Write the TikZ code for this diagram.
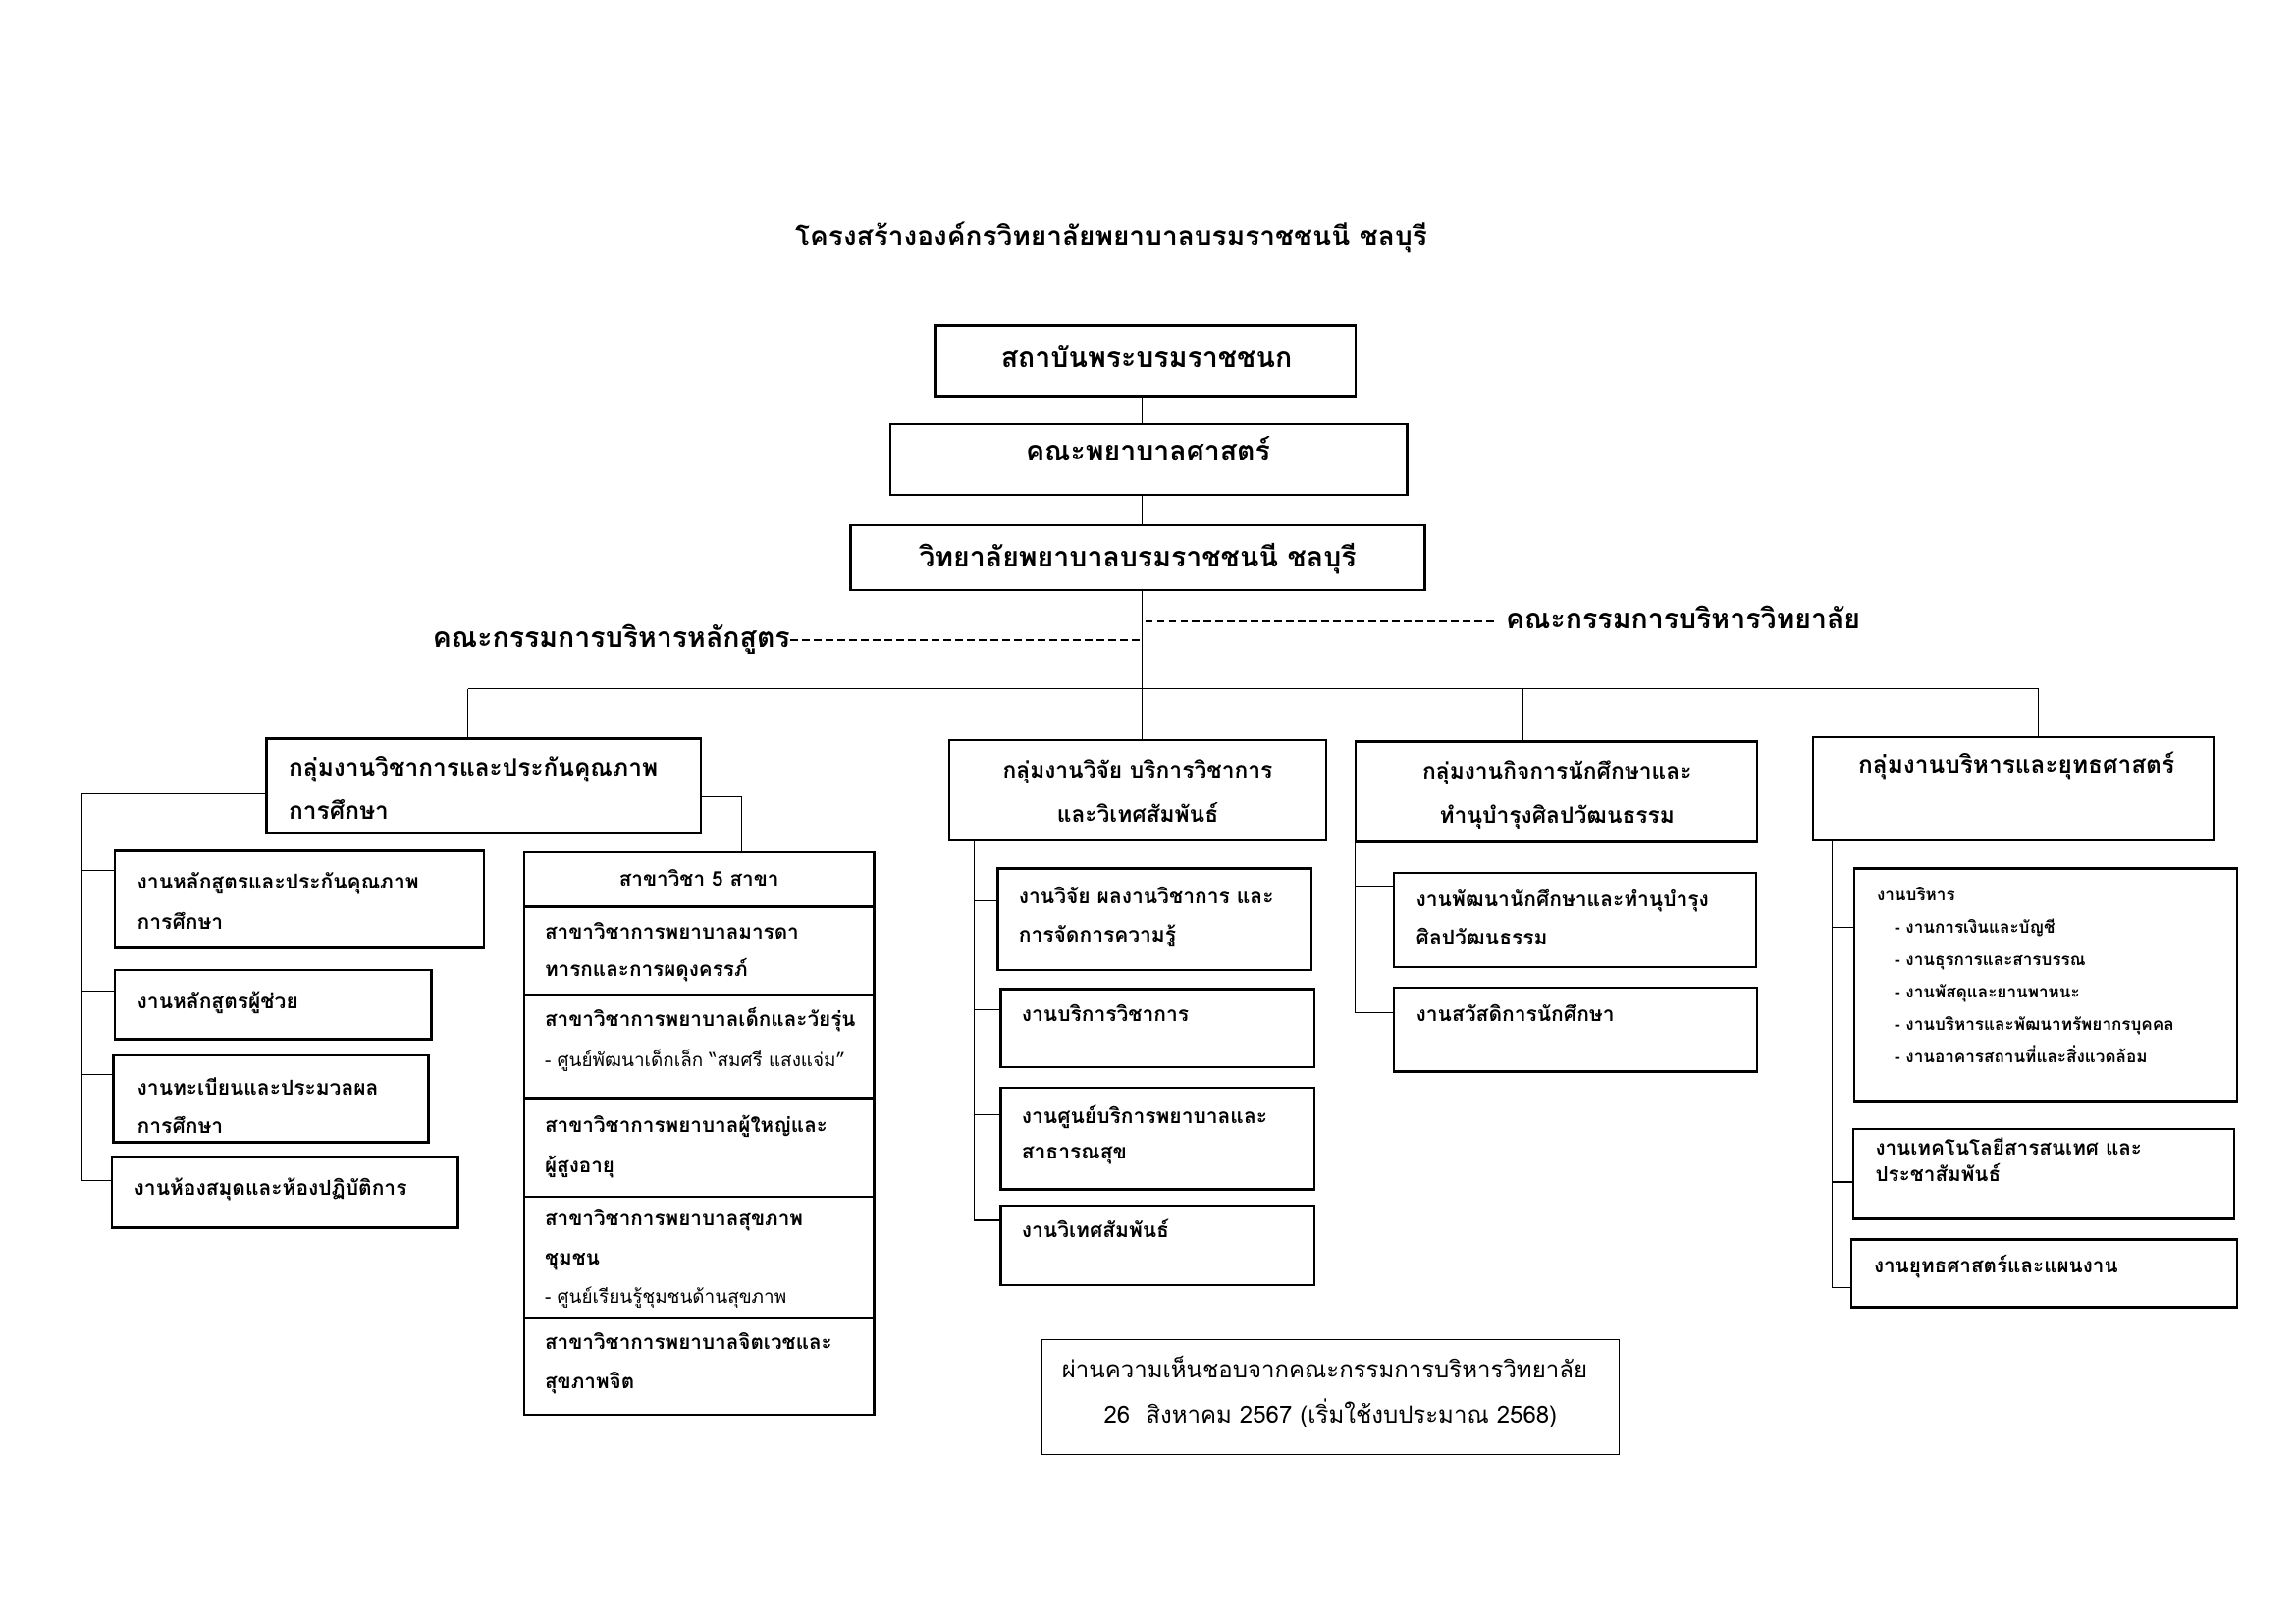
\documentclass[tikz,border=0pt]{standalone}
\usepackage{fontspec}
\setmainfont[Script=Thai]{Loma}
\usetikzlibrary{fit}
\tikzset{
  box/.style={draw, line width=1.6pt, inner sep=0pt},
  conn/.style={line width=0.7pt},
  dsh/.style={line width=1.2pt, dash pattern=on 5pt off 3pt},
  tl/.style={inner sep=0pt, anchor=base west},
  tc/.style={inner sep=0pt, anchor=base},
  ftitle/.style={font=\bfseries\fontsize{18.7}{22}\selectfont},
  ftop/.style={font=\bfseries\fontsize{19}{22}\selectfont},
  fgrp/.style={font=\bfseries\fontsize{16.3}{20}\selectfont},
  fgrpn/.style={font=\bfseries\fontsize{15.2}{20}\selectfont},
  fbox/.style={font=\bfseries\fontsize{14}{17}\selectfont},
  ftab/.style={font=\bfseries\fontsize{13.8}{16}\selectfont},
  fsub/.style={font=\fontsize{12.6}{16}\selectfont},
  fsmall/.style={font=\bfseries\fontsize{11.4}{14}\selectfont},
  fnote/.style={font=\fontsize{16}{19}\selectfont},
}
\begin{document}
\begin{tikzpicture}[x=1pt,y=-1pt]
\useasboundingbox (0,0) rectangle (1560,1097);
% title
\node[tc,ftitle] (title) at (755,167) {โครงสร้างองค์กรวิทยาลัยพยาบาลบรมราชชนนี ชลบุรี};
% top boxes
\node[box, fit={(636,221) (921,269)}] (A) {};
\node[tc,ftop] (At) at (779,250) {สถาบันพระบรมราชชนก};
\node[box, fit={(605,288) (956,336)}] (B) {};
\node[tc,ftop] (Bt) at (780,313) {คณะพยาบาลศาสตร์};
\node[box, fit={(578,357) (968,401)}] (C) {};
\node[tc,ftop] (Ct) at (773,385) {วิทยาลัยพยาบาลบรมราชชนนี ชลบุรี};
\coordinate (sp) at (776,468);
\draw[conn] (sp |- A.south) -- (sp |- B.north);
\draw[conn] (sp |- B.south) -- (sp |- C.north);
\draw[conn] (sp |- C.south) -- (sp);
% committees
\node[inner sep=0pt, anchor=base east, ftop] (cl) at (537,440) {คณะกรรมการบริหารหลักสูตร};
\node[tl, ftop] (cr) at (1023,427) {คณะกรรมการบริหารวิทยาลัย};
\coordinate (dl) at (776,435);
\coordinate (dr) at (778,422);
\draw[dsh] (cl.east |- dl) -- (dl);
\draw[dsh] (dr) -- ([xshift=-6pt]cr.west |- dr);
% groups
\node[box, fit={(181,502) (476,566)}] (g1) {};
\node[tl,fgrp] (g1a) at (196,527.5) {กลุ่มงานวิชาการและประกันคุณภาพ};
\node[tl,fgrp] (g1b) at (196,556.5) {การศึกษา};
\node[box, fit={(645,503) (901,571)}] (g2) {};
\node[tc,fgrpn] (g2a) at (773,528.5) {กลุ่มงานวิจัย บริการวิชาการ};
\node[tc,fgrpn] (g2b) at (773,558.5) {และวิเทศสัมพันธ์};
\node[box, fit={(921,504) (1194,572)}] (g3) {};
\node[tc,fgrpn] (g3a) at (1058,529.5) {กลุ่มงานกิจการนักศึกษาและ};
\node[tc,fgrpn] (g3b) at (1058,559.5) {ทำนุบำรุงศิลปวัฒนธรรม};
\node[box, fit={(1232,501) (1504,571)}] (g4) {};
\node[tc,fgrp] (g4a) at (1370,525.5) {กลุ่มงานบริหารและยุทธศาสตร์};
% bus
\coordinate (busL) at (318,468);
\coordinate (busR) at (1385,468);
\coordinate (d3) at (1035,468);
\draw[conn] (busL) -- (busR);
\draw[conn] (busL) -- (busL |- g1.north);
\draw[conn] (sp) -- (sp |- g2.north);
\draw[conn] (d3) -- (d3 |- g3.north);
\draw[conn] (busR) -- (busR |- g4.north);
% group 1 children
\node[box, fit={(78,578) (329,644)}] (b11) {};
\node[tl,fbox] (b11a) at (93,604) {งานหลักสูตรและประกันคุณภาพ};
\node[tl,fbox] (b11b) at (93,631) {การศึกษา};
\node[box, fit={(78,659) (293,706)}] (b12) {};
\node[tl,fbox] (b12a) at (93,685) {งานหลักสูตรผู้ช่วย};
\node[box, fit={(77,717) (291,776)}] (b13) {};
\node[tl,fbox] (b13a) at (93,744) {งานทะเบียนและประมวลผล};
\node[tl,fbox] (b13b) at (93,770) {การศึกษา};
\node[box, fit={(76,786) (311,834)}] (b14) {};
\node[tl,fbox] (b14a) at (91,812) {งานห้องสมุดและห้องปฏิบัติการ};
\coordinate (v1) at (56,539);
\coordinate (v1b) at (56,802);
\coordinate (v11) at (56,591);
\coordinate (v12) at (56,673);
\coordinate (v13) at (56,730);
\draw[conn] (g1.west |- v1) -- (v1) -- (v1b) -- (v1b -| b14.west);
\draw[conn] (v11) -- (v11 -| b11.west);
\draw[conn] (v12) -- (v12 -| b12.west);
\draw[conn] (v13) -- (v13 -| b13.west);
% table of 5 branches
\node[box, fit={(356,579) (594,616)}] (t0) {};
\node[box, fit={(356,616) (594,676)}] (t1) {};
\node[box, fit={(356,676) (594,746)}] (t2) {};
\node[box, fit={(356,746) (594,813)}] (t3) {};
\node[box, fit={(356,813) (594,895)}] (t4) {};
\node[box, fit={(356,895) (594,961)}] (t5) {};
\node[tc,ftab] (t0a) at (475,601.6) {สาขาวิชา 5 สาขา};
\node[tl,ftab] (t1a) at (370,637.6) {สาขาวิชาการพยาบาลมารดา};
\node[tl,ftab] (t1b) at (370,663.6) {ทารกและการผดุงครรภ์};
\node[tl,ftab] (t2a) at (370,697.6) {สาขาวิชาการพยาบาลเด็กและวัยรุ่น};
\node[tl,fsub] (t2b) at (370,724.4) {- ศูนย์พัฒนาเด็กเล็ก “สมศรี แสงแจ่ม”};
\node[tl,ftab] (t3a) at (370,769.6) {สาขาวิชาการพยาบาลผู้ใหญ่และ};
\node[tl,ftab] (t3b) at (370,796.6) {ผู้สูงอายุ};
\node[tl,ftab] (t4a) at (370,832.6) {สาขาวิชาการพยาบาลสุขภาพ};
\node[tl,ftab] (t4b) at (370,859.6) {ชุมชน};
\node[tl,fsub] (t4c) at (370,885.4) {- ศูนย์เรียนรู้ชุมชนด้านสุขภาพ};
\node[tl,ftab] (t5a) at (370,916.6) {สาขาวิชาการพยาบาลจิตเวชและ};
\node[tl,ftab] (t5b) at (370,943.6) {สุขภาพจิต};
\coordinate (r1) at (504,541);
\draw[conn] (g1.east |- r1) -- (r1) -- (r1 |- t0.north);
% group 2 children
\node[box, fit={(678,590) (891,659)}] (b21) {};
\node[tl,fbox] (b21a) at (692,614) {งานวิจัย ผลงานวิชาการ และ};
\node[tl,fbox] (b21b) at (692,640) {การจัดการความรู้};
\node[box, fit={(680,672) (893,725)}] (b22) {};
\node[tl,fbox] (b22a) at (694,694) {งานบริการวิชาการ};
\node[box, fit={(680,739) (893,808)}] (b23) {};
\node[tl,fbox] (b23a) at (694,763) {งานศูนย์บริการพยาบาลและ};
\node[tl,fbox] (b23b) at (694,787) {สาธารณสุข};
\node[box, fit={(680,819) (893,873)}] (b24) {};
\node[tl,fbox] (b24a) at (694,841) {งานวิเทศสัมพันธ์};
\coordinate (v2b) at (662,829);
\coordinate (v21) at (662,612);
\coordinate (v22) at (662,686);
\coordinate (v23) at (662,757);
\draw[conn] (v2b |- g2.south) -- (v2b) -- (v2b -| b24.west);
\draw[conn] (v21) -- (v21 -| b21.west);
\draw[conn] (v22) -- (v22 -| b22.west);
\draw[conn] (v23) -- (v23 -| b23.west);
% group 3 children
\node[box, fit={(947,593) (1193,657)}] (b31) {};
\node[tl,fbox] (b31a) at (962,616) {งานพัฒนานักศึกษาและทำนุบำรุง};
\node[tl,fbox] (b31b) at (962,642) {ศิลปวัฒนธรรม};
\node[box, fit={(947,671) (1194,728)}] (b32) {};
\node[tl,fbox] (b32a) at (962,694) {งานสวัสดิการนักศึกษา};
\coordinate (v3b) at (921,688);
\coordinate (v31) at (921,602);
\draw[conn] (v3b |- g3.south) -- (v3b) -- (v3b -| b32.west);
\draw[conn] (v31) -- (v31 -| b31.west);
% group 4 children
\node[box, fit={(1260,590) (1520,748)}] (b41) {};
\node[tl,fsmall] (b41a) at (1275,612) {งานบริหาร};
\node[tl,fsmall] (b41b) at (1287,634) {- งานการเงินและบัญชี};
\node[tl,fsmall] (b41c) at (1287,656) {- งานธุรการและสารบรรณ};
\node[tl,fsmall] (b41d) at (1287,678) {- งานพัสดุและยานพาหนะ};
\node[tl,fsmall] (b41e) at (1287,700) {- งานบริหารและพัฒนาทรัพยากรบุคคล};
\node[tl,fsmall] (b41f) at (1287,722) {- งานอาคารสถานที่และสิ่งแวดล้อม};
\node[box, fit={(1259,767) (1518,828)}] (b42) {};
\node[tl,ftab] (b42a) at (1274,784.6) {งานเทคโนโลยีสารสนเทศ และ};
\node[tl,ftab] (b42b) at (1274,802.6) {ประชาสัมพันธ์};
\node[box, fit={(1258,842) (1520,888)}] (b43) {};
\node[tl,ftab] (b43a) at (1273,864.6) {งานยุทธศาสตร์และแผนงาน};
\coordinate (v4b) at (1245,875);
\coordinate (v41) at (1245,630);
\coordinate (v42) at (1245,803);
\draw[conn] (v4b |- g4.south) -- (v4b) -- (v4b -| b43.west);
\draw[conn] (v41) -- (v41 -| b41.west);
\draw[conn] (v42) -- (v42 -| b42.west);
% note
\node[draw, line width=0.8pt, inner sep=0pt, fit={(708,910) (1100,988)}] (note) {};
\node[tc,fnote] (n1) at (900,936) {ผ่านความเห็นชอบจากคณะกรรมการบริหารวิทยาลัย};
\node[tc,fnote] (n2) at (904,967) {26\ \ สิงหาคม 2567 (เริ่มใช้งบประมาณ 2568)};
\end{tikzpicture}
\end{document}
